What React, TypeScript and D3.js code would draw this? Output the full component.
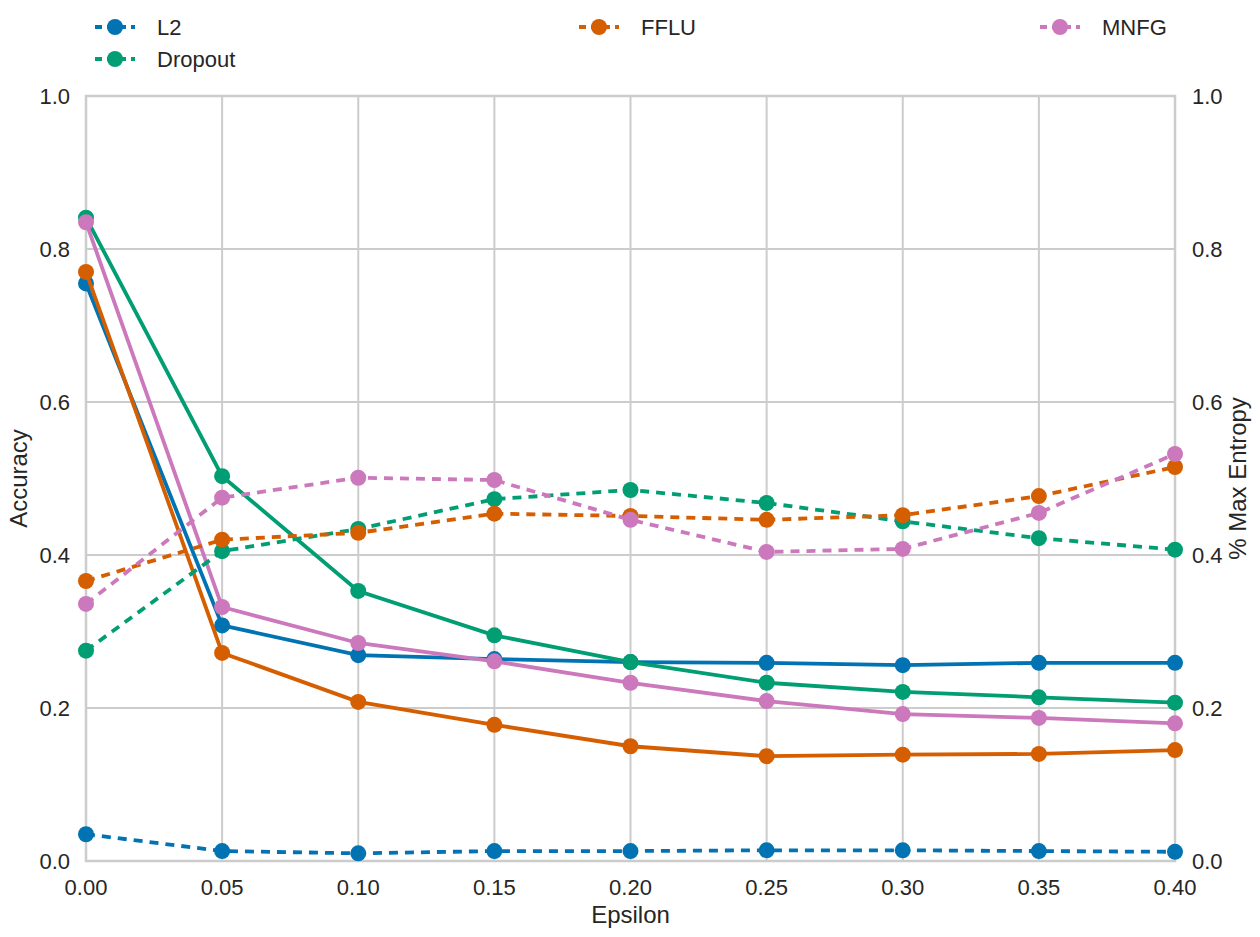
import React from 'react';
import * as d3 from 'd3';

// epsilon values on the x axis
const epsilons = [0, 0.05, 0.1, 0.15, 0.2, 0.25, 0.3, 0.35, 0.4];
const xTicks = [0, 0.05, 0.1, 0.15, 0.2, 0.25, 0.3, 0.35, 0.4];
const yTicks = [0, 0.2, 0.4, 0.6, 0.8, 1.0];

// accuracy (solid, left axis)
const l2Acc = [0.755, 0.308, 0.269, 0.264, 0.26, 0.259, 0.256, 0.259, 0.259];
const dropoutAcc = [0.841, 0.503, 0.353, 0.295, 0.26, 0.233, 0.221, 0.214, 0.207];
const ffluAcc = [0.77, 0.272, 0.208, 0.178, 0.15, 0.137, 0.139, 0.14, 0.145];
const mnfgAcc = [0.835, 0.332, 0.285, 0.261, 0.233, 0.209, 0.192, 0.187, 0.18];

// % max entropy (dashed, right axis)
const l2Ent = [0.035, 0.013, 0.01, 0.013, 0.013, 0.014, 0.014, 0.013, 0.012];
const dropoutEnt = [0.275, 0.405, 0.434, 0.473, 0.485, 0.468, 0.444, 0.422, 0.407];
const ffluEnt = [0.366, 0.42, 0.429, 0.454, 0.451, 0.446, 0.452, 0.477, 0.515];
const mnfgEnt = [0.336, 0.475, 0.501, 0.498, 0.446, 0.404, 0.408, 0.455, 0.532];

const models = ['L2', 'Dropout', 'FFLU', 'MNFG'];
const colors = ['#0173b2', '#029e73', '#d55e00', '#cc78bc'];
const accSeries = [l2Acc, dropoutAcc, ffluAcc, mnfgAcc];
const entSeries = [l2Ent, dropoutEnt, ffluEnt, mnfgEnt];

const W = 1260;
const H = 937;
const margin = { top: 96, right: 85, bottom: 76, left: 86 };
const font = '"Liberation Sans", Arial, sans-serif';
const textColor = '#262626';
const gridColor = '#cccccc';
const lw = 3.8;
const r = 8;
const dash = '9 7';

// legend laid out column-first with 3 columns, like matplotlib
const legendCols = [95, 579, 1040];
const legendRows = [27, 59];
const legendPos = [
  [0, 0],
  [0, 1],
  [1, 0],
  [2, 0],
];

export default function App() {
  const x = d3
    .scaleLinear()
    .domain([0, 0.4])
    .range([margin.left, W - margin.right]);
  const yLeft = d3
    .scaleLinear()
    .domain([0, 1])
    .range([H - margin.bottom, margin.top]);
  const yRight = d3
    .scaleLinear()
    .domain([0, 1])
    .range([H - margin.bottom, margin.top]);

  const lineL = d3
    .line<number>()
    .x((_, i) => x(epsilons[i]))
    .y((d) => yLeft(d));
  const lineR = d3
    .line<number>()
    .x((_, i) => x(epsilons[i]))
    .y((d) => yRight(d));

  const top = margin.top;
  const bottom = H - margin.bottom;
  const left = margin.left;
  const right = W - margin.right;

  return (
    <svg
      width={W}
      height={H}
      style={{ position: 'absolute', left: 0, top: 0, background: '#fff' }}
      fontFamily={font}
    >
      {/* grid */}
      {xTicks.map((t) => (
        <line key={'gx' + t} x1={x(t)} x2={x(t)} y1={top} y2={bottom} stroke={gridColor} strokeWidth={2} />
      ))}
      {yTicks.map((t) => (
        <line key={'gy' + t} x1={left} x2={right} y1={yLeft(t)} y2={yLeft(t)} stroke={gridColor} strokeWidth={2} />
      ))}
      {/* frame */}
      <rect x={left} y={top} width={right - left} height={bottom - top} fill="none" stroke={gridColor} strokeWidth={2.5} />

      {/* ticks */}
      {xTicks.map((t) => (
        <text key={'tx' + t} x={x(t)} y={bottom + 34} textAnchor="middle" fontSize={22} fill={textColor}>
          {t.toFixed(2)}
        </text>
      ))}
      {yTicks.map((t) => (
        <text key={'tl' + t} x={left - 16} y={yLeft(t) + 8} textAnchor="end" fontSize={22} fill={textColor}>
          {t.toFixed(1)}
        </text>
      ))}
      {yTicks.map((t) => (
        <text key={'tr' + t} x={right + 17} y={yRight(t) + 8} textAnchor="start" fontSize={22} fill={textColor}>
          {t.toFixed(1)}
        </text>
      ))}

      {/* axis labels */}
      <text x={(left + right) / 2} y={923} textAnchor="middle" fontSize={24} fill={textColor}>
        Epsilon
      </text>
      <text
        transform={`translate(27,${(top + bottom) / 2}) rotate(-90)`}
        textAnchor="middle"
        fontSize={24}
        fill={textColor}
      >
        Accuracy
      </text>
      <text
        transform={`translate(1246,${(top + bottom) / 2}) rotate(-90)`}
        textAnchor="middle"
        fontSize={24}
        fill={textColor}
      >
        % Max Entropy
      </text>

      {/* accuracy lines */}
      {accSeries.map((s, k) => (
        <g key={'acc' + k}>
          <path d={lineL(s) || ''} fill="none" stroke={colors[k]} strokeWidth={lw} />
          {s.map((v, i) => (
            <circle key={i} cx={x(epsilons[i])} cy={yLeft(v)} r={r} fill={colors[k]} />
          ))}
        </g>
      ))}

      {/* entropy lines */}
      {entSeries.map((s, k) => (
        <g key={'ent' + k}>
          <path d={lineR(s) || ''} fill="none" stroke={colors[k]} strokeWidth={lw} strokeDasharray={dash} />
          {s.map((v, i) => (
            <circle key={i} cx={x(epsilons[i])} cy={yRight(v)} r={r} fill={colors[k]} />
          ))}
        </g>
      ))}

      {/* legend */}
      {models.map((m, k) => {
        const lx = legendCols[legendPos[k][0]];
        const ly = legendRows[legendPos[k][1]];
        return (
          <g key={'lg' + m}>
            <line x1={lx} x2={lx + 40} y1={ly} y2={ly} stroke={colors[k]} strokeWidth={lw} strokeDasharray="7 5" />
            <circle cx={lx + 20} cy={ly} r={r} fill={colors[k]} />
            <text x={lx + 62} y={ly + 8} fontSize={22} fill={textColor}>
              {m}
            </text>
          </g>
        );
      })}
    </svg>
  );
}
